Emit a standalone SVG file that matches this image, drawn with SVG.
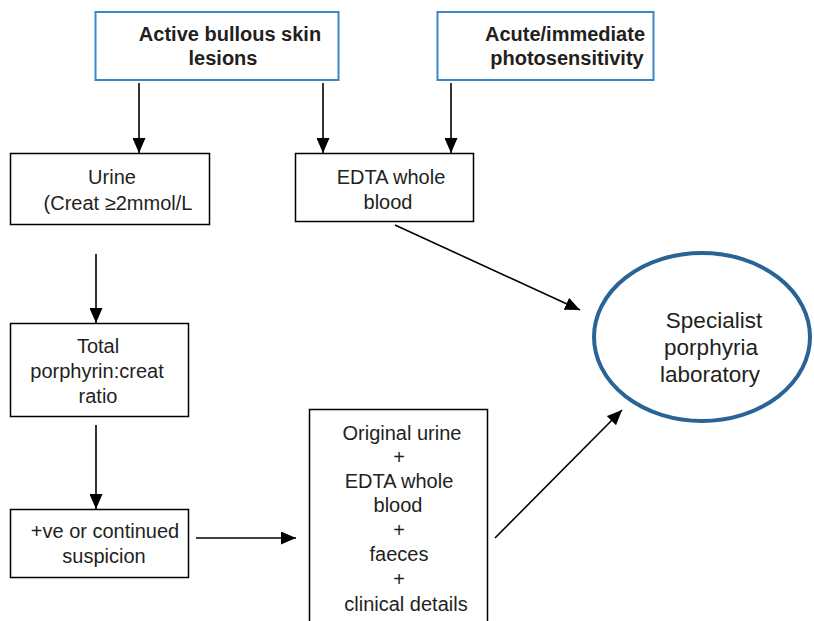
<svg xmlns="http://www.w3.org/2000/svg" width="814" height="621" viewBox="0 0 814 621">
<style>
text{font-family:"Liberation Sans",Arial,sans-serif;font-size:20px;fill:#231f20;text-anchor:middle}
.b{font-weight:bold}
.big{font-size:22.5px}
.box{fill:#fff;stroke:#000;stroke-width:1.5}
.bbox{fill:#fff;stroke:#3a87c8;stroke-width:2}
.ln{stroke:#000;stroke-width:1.6;fill:none;marker-end:url(#ah)}
</style>
<defs>
<marker id="ah" viewBox="0 0 15 13" refX="15" refY="6.5" markerWidth="15" markerHeight="13" markerUnits="userSpaceOnUse" orient="auto">
<path d="M0,0 L15,6.5 L0,13 Z" fill="#000"/>
</marker>
</defs>
<g id="n-bullous">
<rect class="bbox" x="95.5" y="12" width="243" height="68"/>
<text class="b" x="230" y="41">Active bullous skin</text>
<text class="b" x="223" y="65">lesions</text>
</g>
<g id="n-photo">
<rect class="bbox" x="437.5" y="12" width="216" height="68"/>
<text class="b" x="565" y="41">Acute/immediate</text>
<text class="b" x="567" y="65">photosensitivity</text>
</g>
<g id="n-urine">
<rect class="box" x="10.5" y="153.5" width="199" height="71"/>
<text x="112" y="184">Urine</text>
<text x="118" y="210">(Creat ≥2mmol/L</text>
</g>
<g id="n-edta">
<rect class="box" x="295.5" y="153.5" width="178" height="68"/>
<text x="391" y="184">EDTA whole</text>
<text x="388" y="209">blood</text>
</g>
<g id="n-total">
<rect class="box" x="10.5" y="323.5" width="178" height="93"/>
<text x="98" y="353">Total</text>
<text x="97" y="378">porphyrin:creat</text>
<text x="98" y="403">ratio</text>
</g>
<g id="n-positive">
<rect class="box" x="10.5" y="509.5" width="178" height="68"/>
<text x="105" y="538">+ve or continued</text>
<text x="104" y="563">suspicion</text>
</g>
<g id="n-samples">
<rect class="box" x="309.5" y="409.5" width="178" height="215"/>
<text x="402" y="440">Original urine</text>
<text x="399" y="464">+</text>
<text x="399" y="488">EDTA whole</text>
<text x="398" y="512">blood</text>
<text x="399" y="537">+</text>
<text x="399" y="561">faeces</text>
<text x="399" y="586">+</text>
<text x="406" y="611">clinical details</text>
</g>
<g id="n-lab">
<ellipse cx="702" cy="337" rx="108" ry="84" fill="#fff" stroke="#2a6496" stroke-width="4"/>
<text class="big" x="714" y="328">Specialist</text>
<text class="big" x="711" y="355">porphyria</text>
<text class="big" x="710" y="382">laboratory</text>
</g>
<g id="connectors">
<line class="ln" x1="139" y1="83" x2="139" y2="153"/>
<line class="ln" x1="323" y1="83" x2="323" y2="153"/>
<line class="ln" x1="451" y1="83" x2="451" y2="153"/>
<line class="ln" x1="96" y1="254" x2="96" y2="323"/>
<line class="ln" x1="96" y1="425" x2="96" y2="509"/>
<line class="ln" x1="196" y1="538" x2="296" y2="538"/>
<line class="ln" x1="395" y1="225" x2="580" y2="310"/>
<line class="ln" x1="495" y1="538" x2="622" y2="410"/>
</g>
</svg>
